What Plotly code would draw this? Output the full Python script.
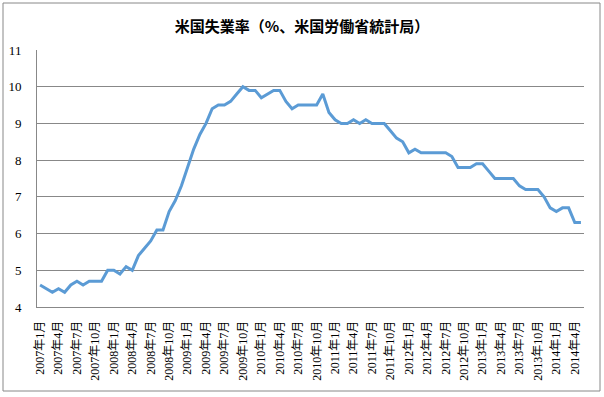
import plotly.graph_objects as go

# Monthly categories 2007-01 .. 2014-05
years = list(range(2007, 2015))
months = [f"{y}年{m}月" for y in years for m in range(1, 13)][:89]

rate = [
    4.6, 4.5, 4.4, 4.5, 4.4, 4.6, 4.7, 4.6, 4.7, 4.7, 4.7, 5.0,   # 2007
    5.0, 4.9, 5.1, 5.0, 5.4, 5.6, 5.8, 6.1, 6.1, 6.6, 6.9, 7.3,   # 2008
    7.8, 8.3, 8.7, 9.0, 9.4, 9.5, 9.5, 9.6, 9.8, 10.0, 9.9, 9.9,  # 2009
    9.7, 9.8, 9.9, 9.9, 9.6, 9.4, 9.5, 9.5, 9.5, 9.5, 9.8, 9.3,   # 2010
    9.1, 9.0, 9.0, 9.1, 9.0, 9.1, 9.0, 9.0, 9.0, 8.8, 8.6, 8.5,   # 2011
    8.2, 8.3, 8.2, 8.2, 8.2, 8.2, 8.2, 8.1, 7.8, 7.8, 7.8, 7.9,   # 2012
    7.9, 7.7, 7.5, 7.5, 7.5, 7.5, 7.3, 7.2, 7.2, 7.2, 7.0, 6.7,   # 2013
    6.6, 6.7, 6.7, 6.3, 6.3,                                      # 2014
]

tick_labels = months[::3]
y_ticks = [4, 5, 6, 7, 8, 9, 10, 11]

title_text = "米国失業率（%、米国労働省統計局）"

W, H = 604, 397
L, R, T, B = 37, 20, 50, 90
pw, ph = W - L - R, H - T - B

fig = go.Figure()
fig.add_trace(go.Scatter(
    x=months, y=rate, mode="lines",
    line=dict(color="#5B9BD5", width=3),
    hoverinfo="x+y",
))

def px_x(x):
    return (x - L) / pw

def px_y(y):
    return (H - B - y) / ph

fig.update_layout(
    width=W, height=H,
    margin=dict(l=L, r=R, t=T, b=B, pad=0, autoexpand=False),
    paper_bgcolor="white", plot_bgcolor="white",
    showlegend=False,
    title=dict(
        text=title_text, x=0.5, xanchor="center", y=1 - 27 / H, yanchor="middle",
        font=dict(family="Noto Sans CJK JP", size=15, color="#000000", weight="bold"),
    ),
    xaxis=dict(
        type="category", categoryorder="array", categoryarray=months,
        range=[-0.5, len(months) - 0.5],
        tickmode="array", tickvals=tick_labels, ticktext=tick_labels,
        tickangle=-90, ticks="", showgrid=False,
        showline=True, linecolor="#888888", linewidth=1,
        tickfont=dict(family="Liberation Serif, Noto Sans CJK JP", size=12, color="#000000"),
        ticklabelstandoff=8, automargin=False,
        fixedrange=True,
    ),
    yaxis=dict(
        range=[4, 11], tickmode="array", tickvals=y_ticks,
        showgrid=True, gridcolor="#888888", gridwidth=1,
        showline=True, linecolor="#888888", linewidth=1,
        ticks="",
        ticklabelstandoff=12, automargin=False,
        tickfont=dict(family="Liberation Serif, Times New Roman, serif", size=13, color="#000000"),
        zeroline=False, fixedrange=True,
    ),
    shapes=[dict(
        type="rect", xref="paper", yref="paper",
        x0=px_x(3), x1=px_x(600), y0=px_y(391), y1=px_y(3),
        line=dict(color="#888888", width=1), fillcolor="rgba(0,0,0,0)", layer="below",
    )],
)

fig.write_html(
    "out.html",
    config={"displayModeBar": False},
    post_script="document.body.style.margin='0';document.body.style.overflow='hidden';",
)
